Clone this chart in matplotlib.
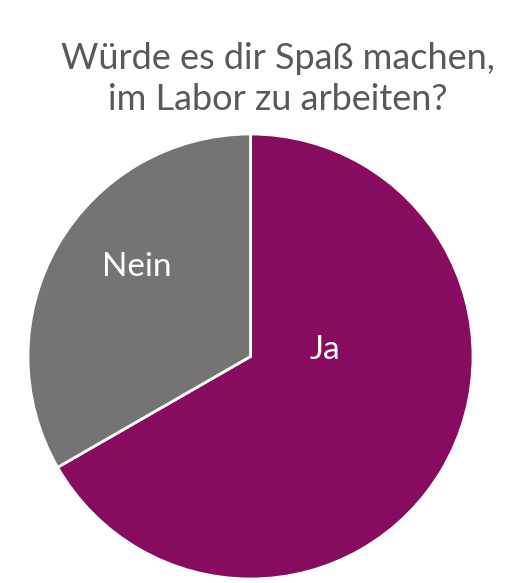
import matplotlib.pyplot as plt

plt.rcParams['font.family'] = ['Lato', 'DejaVu Sans']

labels = ['Ja', 'Nein']
values = [66.7, 33.3]
colors = ['#870C5F', '#767374']
title = 'Würde es dir Spaß machen,\nim Labor zu arbeiten?'

fig = plt.figure(figsize=(5.13, 5.83), dpi=100)
ax = fig.add_axes([28 / 513, 4 / 583, 445 / 513, 445 / 583])

wedges, _ = ax.pie(values, colors=colors, startangle=90, counterclock=False,
                   wedgeprops=dict(edgecolor='white', linewidth=2))
ax.set_xlim(-1, 1)
ax.set_ylim(-1, 1)
ax.set_aspect('equal')
ax.axis('off')

# label positions inside the slices
ax.text(0.335, 0.03, labels[0], color='white', fontsize=24, ha='center', va='center')
ax.text(-0.51, 0.40, labels[1], color='white', fontsize=24, ha='center', va='center')

fig.text(278 / 513, 1 - 79 / 583, title, color='#595959', fontsize=26,
         ha='center', va='center', linespacing=1.3)

fig.savefig('out.png', dpi=100)
